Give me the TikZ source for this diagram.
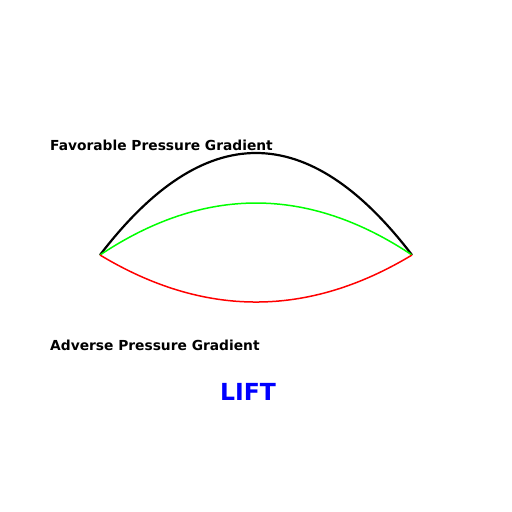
\documentclass[tikz,border=0pt]{standalone}
\usepackage{fontspec}
\setmainfont{DejaVu Sans}
\begin{document}
\begin{tikzpicture}[
    x=1pt, y=-1pt,
    label/.style={anchor=west, inner sep=0pt, font=\fontsize{13.8}{16}\selectfont\bfseries},
    curve/.style={line width=1.5pt}
]
    \useasboundingbox (0,0) rectangle (512,512);
    \coordinate (lead) at (100,255);
    \coordinate (trail) at (412,255);

    % Curves
    \draw[curve, line width=2.2pt, black] (lead) .. controls (204,119) and (308,119) .. (trail);
    \draw[curve, green] (lead) .. controls (204,185.7) and (308,185.7) .. (trail);
    \draw[curve, red] (lead) .. controls (204,317.7) and (308,317.7) .. (trail);

    % Labels
    \node[label] (fav) at (50,145) {Favorable Pressure Gradient};
    \node[label] (adv) at (50,345) {Adverse Pressure Gradient};
    \node[font=\fontsize{23.5}{28}\selectfont\bfseries, text=blue, inner sep=0pt] (lift) at (248,392) {LIFT};
\end{tikzpicture}
\end{document}
